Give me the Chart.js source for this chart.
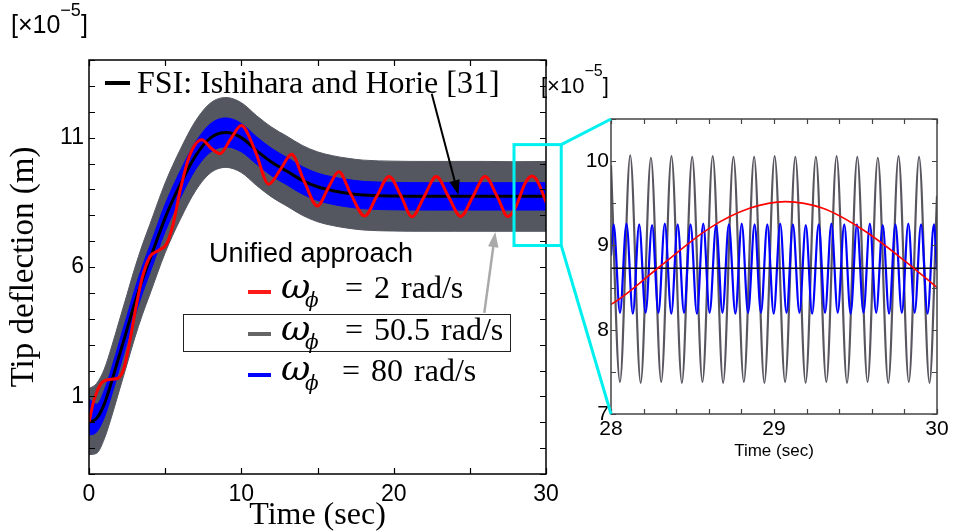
<!DOCTYPE html>
<html>
<head>
<meta charset="utf-8">
<script src="https://cdn.jsdelivr.net/npm/chart.js@4.4.1/dist/chart.umd.min.js"></script>
<style>
body { margin: 0; background: #fff; }
#wrap { position: relative; width: 955px; height: 531px; overflow: hidden; background: #fff; }
canvas { position: absolute; top: 0; }
.t { position: absolute; white-space: nowrap; line-height: 1; color: #000; z-index: 5; }
.sans { font-family: 'Liberation Sans', Arial, sans-serif; }
.serif { font-family: 'Liberation Serif', 'Times New Roman', serif; }
.greek { font-family: 'DejaVu Serif', serif; font-style: italic; }
.sw { position: absolute; height: 4px; width: 23px; left: 248px; z-index: 5; }
</style>
</head>
<body>
<div id="wrap">
  <canvas id="main" width="600" height="531" style="left:0"></canvas>
  <canvas id="zoom" width="395" height="531" style="left:560px"></canvas>
  <canvas id="over" width="955" height="531" style="left:0;z-index:4"></canvas>

  <div class="t sans" style="left:11px;top:11.5px;font-size:25px">[×10<span style="font-size:18px;position:relative;top:-17px">−5</span>]</div>
  <div class="t sans" style="left:541px;top:74.7px;font-size:22px">[×10<span style="font-size:16px;position:relative;top:-17px">−5</span>]</div>

  <div style="position:absolute;left:105px;top:81px;width:25px;height:4px;background:#000;z-index:5"></div>
  <div class="t serif" style="left:137px;top:65.5px;font-size:32px">FSI: Ishihara and Horie [31]</div>

  <div class="t sans" style="left:209px;top:240.4px;font-size:27px">Unified approach</div>

  <div style="position:absolute;left:183px;top:313.5px;width:326px;height:36px;border:1px solid #222;z-index:5"></div>

  <div class="sw" style="top:290px;background:#ff1a1a"></div>
  <div class="t greek" style="left:281px;top:267.5px;font-size:36px">ω</div>
  <div class="t greek" style="left:305px;top:290.1px;font-size:20px">ϕ</div>
  <div class="t serif" style="left:345px;top:271.2px;font-size:32px;word-spacing:3px">= 2 rad/s</div>

  <div class="sw" style="top:332px;background:#666"></div>
  <div class="t greek" style="left:281px;top:309.5px;font-size:36px">ω</div>
  <div class="t greek" style="left:305px;top:332.1px;font-size:20px">ϕ</div>
  <div class="t serif" style="left:345px;top:313.2px;font-size:32px;word-spacing:3px">= 50.5 rad/s</div>

  <div class="sw" style="top:372.5px;background:#0000ff"></div>
  <div class="t greek" style="left:281px;top:350.2px;font-size:36px">ω</div>
  <div class="t greek" style="left:305px;top:372.8px;font-size:20px">ϕ</div>
  <div class="t serif" style="left:342px;top:353.9px;font-size:32px;word-spacing:3px">= 80 rad/s</div>
</div>

<script>
// main plot, time axis (sec) and tip deflection (x1e-5 m)
const timeMain = [0, 0.5, 1, 1.5, 2, 2.5, 3, 3.5, 4, 5, 6, 7, 8, 9, 10, 11, 12, 13, 14, 15, 16, 17, 18, 20, 22, 24, 26, 28, 30];
const fsi    = [0, 0.15, 0.7, 1.6, 2.6, 3.6, 4.6, 5.5, 6.3, 7.9, 9.2, 10.3, 11.0, 11.2, 11.0, 10.5, 10.05, 9.7, 9.35, 9.1, 8.95, 8.85, 8.78, 8.74, 8.73, 8.73, 8.73, 8.73, 8.73];
const grayHi = [1.3, 1.5, 2.05, 2.95, 3.95, 4.95, 5.95, 6.85, 7.65, 9.25, 10.55, 11.65, 12.35, 12.55, 12.35, 11.85, 11.4, 11.05, 10.7, 10.45, 10.3, 10.2, 10.13, 10.09, 10.08, 10.08, 10.08, 10.07, 10.08];
const grayLo = [-1.25, -1.2, -0.65, 0.25, 1.25, 2.25, 3.25, 4.15, 4.95, 6.55, 7.85, 8.95, 9.65, 9.85, 9.65, 9.15, 8.7, 8.35, 8.0, 7.75, 7.6, 7.5, 7.43, 7.39, 7.38, 7.38, 7.38, 7.38, 7.38];
const blueHi = [0.9, 0.7, 1.23, 2.13, 3.13, 4.13, 5.13, 6.03, 6.83, 8.43, 9.73, 10.83, 11.55, 11.76, 11.55, 11.03, 10.58, 10.23, 9.88, 9.63, 9.48, 9.38, 9.31, 9.27, 9.26, 9.26, 9.26, 9.26, 9.26];
const blueLo = [-0.5, -0.38, 0.17, 1.07, 2.07, 3.07, 4.07, 4.97, 5.77, 7.37, 8.67, 9.77, 10.45, 10.64, 10.45, 9.97, 9.52, 9.17, 8.82, 8.57, 8.42, 8.32, 8.25, 8.21, 8.2, 8.2, 8.2, 8.2, 8.2];

// omega = 2 rad/s
const redT = [0, 0.3, 0.8, 1.3, 1.9, 2.3, 2.7, 3.1, 3.5, 4.0, 4.6, 5.1, 5.5, 6.0, 6.6, 7.4, 8.0, 8.6, 9.3, 10.0, 10.9, 11.8, 12.6, 13.3, 14.1, 15.0, 15.7, 16.4, 17.2, 18.1, 18.9, 19.7, 20.5, 21.2, 22.0, 22.8, 23.6, 24.4, 25.2, 26.0, 26.8, 27.5, 28.0, 28.3, 28.6, 28.85, 29.07, 29.3, 29.55, 29.8, 30.0];
const redY = [0, 0.8, 1.5, 1.65, 1.7, 2.1, 3.2, 4.5, 5.6, 6.4, 6.65, 6.9, 7.6, 9.0, 10.3, 10.92, 10.6, 10.38, 10.95, 11.47, 10.5, 9.2, 9.8, 10.36, 9.35, 8.36, 9.05, 9.68, 8.8, 7.97, 8.75, 9.5, 8.72, 7.94, 8.72, 9.5, 8.72, 7.95, 8.72, 9.5, 8.72, 7.95, 8.30, 8.75, 9.20, 9.44, 9.52, 9.44, 9.18, 8.82, 8.50];

// zoomed window 28-30 s, turning points of the fast oscillations
const grayZoomT = [28.000, 28.055, 28.118, 28.182, 28.245, 28.308, 28.371, 28.435, 28.498, 28.561, 28.624, 28.688, 28.751, 28.815, 28.878, 28.941,
                   29.004, 29.068, 29.131, 29.194, 29.257, 29.321, 29.384, 29.448, 29.511, 29.574, 29.637, 29.701, 29.764, 29.827, 29.890, 29.954, 30.000];
const grayZoomY = [9.95, 7.38, 10.07, 7.37, 10.04, 7.38, 10.06, 7.37, 10.05, 7.38, 10.06, 7.37, 10.05, 7.38, 10.05, 7.37,
                   10.06, 7.38, 10.05, 7.37, 10.05, 7.38, 10.06, 7.37, 10.05, 7.38, 10.04, 7.37, 10.06, 7.38, 10.05, 7.37, 9.59];
const blueZoomT = [28.000, 28.016, 28.055, 28.095, 28.134, 28.173, 28.212, 28.252, 28.291, 28.330, 28.370, 28.409, 28.448, 28.488, 28.527, 28.566, 28.605, 28.645, 28.684, 28.723, 28.763, 28.802, 28.841, 28.881, 28.920, 28.959, 28.998,
                   29.038, 29.077, 29.116, 29.156, 29.195, 29.234, 29.274, 29.313, 29.352, 29.391, 29.431, 29.470, 29.509, 29.549, 29.588, 29.627, 29.667, 29.706, 29.745, 29.784, 29.824, 29.863, 29.902, 29.942, 29.981, 30.000];
const blueZoomY = [8.88, 9.25, 8.20, 9.26, 8.19, 9.25, 8.20, 9.24, 8.20, 9.26, 8.19, 9.25, 8.20, 9.25, 8.19, 9.26, 8.20, 9.24, 8.20, 9.25, 8.19, 9.26, 8.20, 9.25, 8.20, 9.25, 8.19,
                   9.26, 8.20, 9.25, 8.20, 9.24, 8.19, 9.25, 8.20, 9.26, 8.20, 9.25, 8.19, 9.25, 8.20, 9.26, 8.20, 9.24, 8.19, 9.25, 8.20, 9.26, 8.20, 9.25, 8.19, 9.25, 8.71];

// annotation anchors in data units
const zoomBoxT = [27.9, 31.0];
const zoomBoxV = [6.83, 10.73];
const fsiArrow = [[22.5, 12.7], [24.25, 8.78]];
const grayArrow = [[25.95, 4.23], [26.67, 7.35]];

const SANS = "'Liberation Sans', Arial, sans-serif";
const SERIF = "'Liberation Serif', 'Times New Roman', serif";

function pts(xs, ys) {
    return xs.map((x, i) => ({x: x, y: ys[i]}));
}

function drawArrow(ctx, x1, y1, x2, y2, color, width, head) {
    const ang = Math.atan2(y2 - y1, x2 - x1);
    ctx.save();
    ctx.strokeStyle = color;
    ctx.fillStyle = color;
    ctx.lineWidth = width;
    ctx.beginPath();
    ctx.moveTo(x1, y1);
    ctx.lineTo(x2 - Math.cos(ang) * head * 0.8, y2 - Math.sin(ang) * head * 0.8);
    ctx.stroke();
    ctx.beginPath();
    ctx.moveTo(x2, y2);
    ctx.lineTo(x2 - head * Math.cos(ang) + head * 0.35 * Math.sin(ang), y2 - head * Math.sin(ang) - head * 0.35 * Math.cos(ang));
    ctx.lineTo(x2 - head * Math.cos(ang) - head * 0.35 * Math.sin(ang), y2 - head * Math.sin(ang) + head * 0.35 * Math.cos(ang));
    ctx.closePath();
    ctx.fill();
    ctx.restore();
}

// box round the plot with inward ticks on all four sides
const frameTicks = {
    id: 'frameTicks',
    afterDraw(chart, args, opts) {
        const {ctx, chartArea: a} = chart;
        const x = chart.scales.x, y = chart.scales.y;
        ctx.save();
        ctx.strokeStyle = opts.color;
        ctx.lineWidth = 1.2;
        ctx.beginPath();
        x.ticks.forEach(t => {
            const px = Math.round(x.getPixelForValue(t.value)) + 0.5;
            ctx.moveTo(px, a.bottom); ctx.lineTo(px, a.bottom - opts.len);
            ctx.moveTo(px, a.top); ctx.lineTo(px, a.top + opts.len);
        });
        y.ticks.forEach(t => {
            const py = Math.round(y.getPixelForValue(t.value)) + 0.5;
            ctx.moveTo(a.left, py); ctx.lineTo(a.left + opts.len, py);
            ctx.moveTo(a.right, py); ctx.lineTo(a.right - opts.len, py);
        });
        ctx.stroke();
        ctx.lineWidth = opts.width;
        ctx.strokeRect(a.left, a.top, a.right - a.left, a.bottom - a.top);
        ctx.restore();
    }
};

const mainArrows = {
    id: 'mainArrows',
    afterDraw(chart) {
        const x = chart.scales.x, y = chart.scales.y;
        const ctx = chart.ctx;
        drawArrow(ctx, x.getPixelForValue(fsiArrow[0][0]), y.getPixelForValue(fsiArrow[0][1]),
                  x.getPixelForValue(fsiArrow[1][0]), y.getPixelForValue(fsiArrow[1][1]), '#000', 2, 15);
        drawArrow(ctx, x.getPixelForValue(grayArrow[0][0]), y.getPixelForValue(grayArrow[0][1]),
                  x.getPixelForValue(grayArrow[1][0]), y.getPixelForValue(grayArrow[1][1]), '#aaaaaa', 2.5, 15);
    }
};

function lineSet(label, data, color, width) {
    return {label: label, data: data, borderColor: color, borderWidth: width, pointRadius: 0,
            fill: false, cubicInterpolationMode: 'monotone'};
}

function bandEdge(label, data, color, fillTo) {
    return {label: label, data: data, borderColor: color, backgroundColor: color, borderWidth: 1,
            pointRadius: 0, fill: fillTo, cubicInterpolationMode: 'monotone'};
}

const mainChart = new Chart(document.getElementById('main'), {
    type: 'line',
    data: {
        datasets: [
            lineSet('2 rad/s', pts(redT, redY), '#ff0000', 3),
            lineSet('FSI: Ishihara and Horie [31]', pts(timeMain, fsi), '#000000', 3),
            bandEdge('80 rad/s upper', pts(timeMain, blueHi), '#0000ff', '+1'),
            bandEdge('80 rad/s lower', pts(timeMain, blueLo), '#0000ff', false),
            bandEdge('50.5 rad/s upper', pts(timeMain, grayHi), '#545760', '+1'),
            bandEdge('50.5 rad/s lower', pts(timeMain, grayLo), '#545760', false)
        ]
    },
    options: {
        responsive: false,
        animation: false,
        events: [],
        layout: {padding: {left: 0, top: 60, right: 54, bottom: 0}},
        plugins: {
            legend: {display: false},
            tooltip: {enabled: false},
            frameTicks: {color: '#000', width: 1.5, len: 6}
        },
        scales: {
            x: {
                type: 'linear', min: 0, max: 30,
                grid: {display: false, drawTicks: false},
                border: {display: false},
                ticks: {
                    stepSize: 5, autoSkip: false, maxRotation: 0, padding: 7, color: '#000',
                    font: {family: SANS, size: 23},
                    callback: v => (v % 10 === 0 ? String(v) : '')
                },
                title: {display: true, text: 'Time (sec)', color: '#000', font: {family: SERIF, size: 32}, padding: {top: 0, bottom: -4}},
                afterFit(s) { s.height = 57; }
            },
            y: {
                min: -2, max: 14,
                grid: {display: false, drawTicks: false},
                border: {display: false},
                ticks: {
                    stepSize: 1, autoSkip: false, padding: 5, color: '#000',
                    font: {family: SANS, size: 23},
                    callback: v => ((v - 1) % 5 === 0 ? String(v) : '')
                },
                title: {display: true, text: 'Tip deflection (m)', color: '#000', font: {family: SERIF, size: 33}, padding: {top: 5, bottom: 0}},
                afterFit(s) { s.width = 89; }
            }
        }
    },
    plugins: [frameTicks, mainArrows]
});

const zoomChart = new Chart(document.getElementById('zoom'), {
    type: 'line',
    data: {
        datasets: [
            lineSet('2 rad/s', pts(redT, redY), '#ff0000', 1.6),
            lineSet('FSI: Ishihara and Horie [31]', pts(timeMain, fsi), '#000000', 1.6),
            lineSet('80 rad/s', pts(blueZoomT, blueZoomY), '#0000ff', 2.2),
            lineSet('50.5 rad/s', pts(grayZoomT, grayZoomY), '#5a5660', 2.2)
        ]
    },
    options: {
        responsive: false,
        animation: false,
        events: [],
        layout: {padding: {left: 0, top: 119, right: 18, bottom: 60}},
        plugins: {
            legend: {display: false},
            tooltip: {enabled: false},
            frameTicks: {color: '#444', width: 1.5, len: 5}
        },
        scales: {
            x: {
                type: 'linear', min: 28, max: 30,
                grid: {display: false, drawTicks: false},
                border: {display: false},
                ticks: {
                    stepSize: 0.2, autoSkip: false, maxRotation: 0, padding: 3, color: '#000',
                    font: {family: SANS, size: 21},
                    callback: v => (Math.abs(v - Math.round(v)) < 1e-6 ? String(Math.round(v)) : '')
                },
                title: {display: true, text: 'Time (sec)', color: '#000', font: {family: SANS, size: 17}, padding: {top: 0, bottom: 9}},
                afterFit(s) { s.height = 57; }
            },
            y: {
                min: 7, max: 10.5,
                grid: {display: false, drawTicks: false},
                border: {display: false},
                ticks: {
                    stepSize: 0.5, autoSkip: false, padding: 2, color: '#000',
                    font: {family: SANS, size: 21},
                    callback: v => (Math.abs(v - Math.round(v)) < 1e-6 ? String(Math.round(v)) : '')
                },
                afterFit(s) { s.width = 51; }
            }
        }
    },
    plugins: [frameTicks]
});

// cyan zoom box on the main plot and its connectors to the inset
(function drawConnectors() {
    const ctx = document.getElementById('over').getContext('2d');
    const mx = mainChart.scales.x, my = mainChart.scales.y;
    const za = zoomChart.chartArea;
    const zoomLeft = 560;
    const x0 = mx.getPixelForValue(zoomBoxT[0]), x1 = mx.getPixelForValue(zoomBoxT[1]);
    const y0 = my.getPixelForValue(zoomBoxV[1]), y1 = my.getPixelForValue(zoomBoxV[0]);
    ctx.strokeStyle = '#00f0f0';
    ctx.lineWidth = 3;
    ctx.strokeRect(x0, y0, x1 - x0, y1 - y0);
    ctx.beginPath();
    ctx.moveTo(x1, y0); ctx.lineTo(zoomLeft + za.left, za.top);
    ctx.moveTo(x1, y1); ctx.lineTo(zoomLeft + za.left, za.bottom);
    ctx.stroke();
})();
</script>
</body>
</html>
